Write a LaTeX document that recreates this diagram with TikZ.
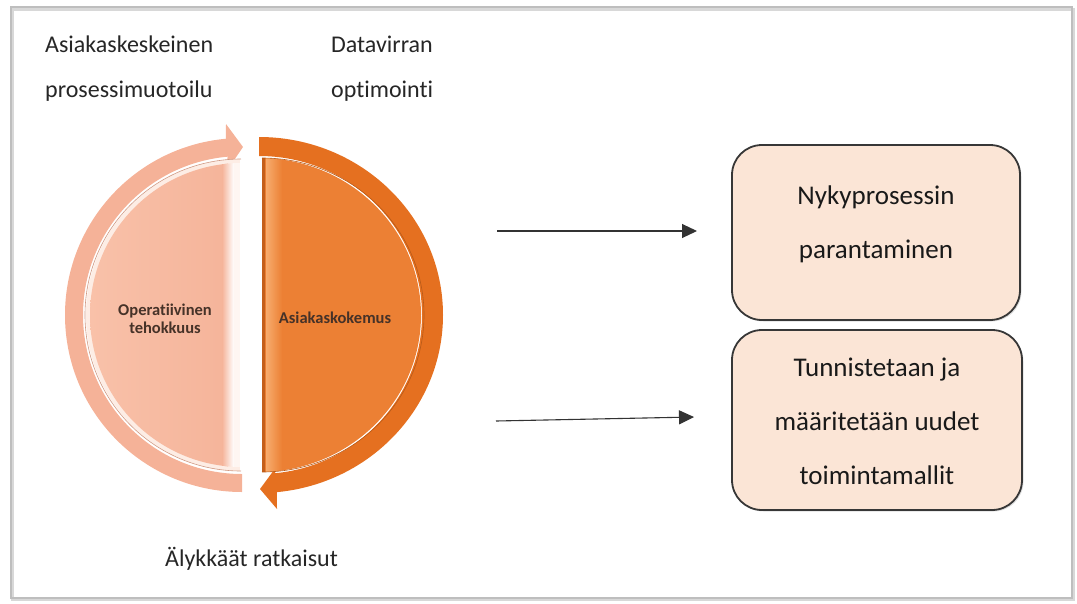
\documentclass[tikz,border=0pt]{standalone}
\usepackage{fontspec}
\setmainfont{Carlito}[Ligatures={NoCommon}]
\usetikzlibrary{arrows.meta,calc,shadows}
\definecolor{lband}{RGB}{245,178,152}
\definecolor{linner}{RGB}{249,194,170}
\definecolor{linnerdark}{RGB}{245,180,154}
\definecolor{rband}{RGB}{229,112,32}
\definecolor{rinner}{RGB}{236,128,52}
\definecolor{rinnerlight}{RGB}{247,172,110}
\definecolor{circtext}{RGB}{70,50,40}
\definecolor{boxfill}{RGB}{251,229,214}
\definecolor{boxline}{RGB}{55,55,55}
\definecolor{framecol}{RGB}{190,190,190}
\tikzset{
  toplabel/.style={anchor=base west, inner sep=0pt, font=\fontsize{24}{28}\selectfont, text=black!85},
  circlabel/.style={align=center, inner sep=0pt, font=\bfseries\fontsize{16.5}{18}\selectfont, text=circtext},
  procbox/.style={draw=boxline, line width=1.8pt, fill=boxfill, rounded corners=30pt,
     drop shadow={opacity=0.25, shadow xshift=1.5pt, shadow yshift=-1.5pt}},
  boxtext/.style={align=center, inner sep=0pt, font=\fontsize{27}{54}\selectfont, text=black!90},
  flowarrow/.style={draw=black!80, line width=1.1pt, -{Triangle[length=15pt,width=14pt]}}
}
\begin{document}
\begin{tikzpicture}[x=1pt,y=-1pt]
\useasboundingbox (0,0) rectangle (1077,603);
% page frame
\draw[framecol!60, line width=3pt] (12,9) rectangle (1073,599);
\draw[framecol, line width=1.2pt] (11,7) rectangle (1072,598);

% top and bottom labels
\node[toplabel] (l1a) at (45,52) {Asiakaskeskeinen};
\node[toplabel] (l1b) at (45,97) {prosessimuotoilu};
\node[toplabel] (l2a) at (331,52) {Datavirran};
\node[toplabel] (l2b) at (331,97) {optimointi};
\node[toplabel] (l3) at (165,566) {Älykkäät ratkaisut};

% left half: band with arrow at top
\coordinate (CL) at (242,315);
\fill[lband] (242,492) arc[start angle=90, end angle=264.8, radius=177]
   -- (226,124) -- (243,147) -- (226,172)
   -- ($(CL)+(264.8:159)$) arc[start angle=264.8, end angle=90, radius=159] -- cycle;
\begin{scope}
  \clip (CL) circle[radius=156];
  \clip (80,100) rectangle (240,530);
  \fill[white!70!linner] (80,150) rectangle (240,480);
\end{scope}
\begin{scope}
  \clip (CL) circle[radius=152];
  \clip (80,100) rectangle (240,530);
  \shade[left color=linner, right color=linnerdark] (80,150) rectangle (228,480);
  \shade[left color=linnerdark, right color=white] (222,150) rectangle (234,480);
  \fill[white!85!linner] (234,150) rectangle (240,480);
\end{scope}
\draw[linnerdark!85!black, line width=0.6pt] (241,159) arc[start angle=270, end angle=90, radius=156];

% right half: band with arrow at bottom
\coordinate (CR) at (259,315);
\fill[rband] (259,137) arc[start angle=270, end angle=444.4, x radius=184, y radius=178]
   -- (277,509) -- (260,489) -- (277,466)
   -- ($(CR)+(444.4:163 and 159)$) arc[start angle=444.4, end angle=270, x radius=163, y radius=159] -- cycle;
\begin{scope}
  \clip (CR) ellipse[x radius=162, y radius=157];
  \clip (262,100) rectangle (440,530);
  \fill[rinner] (262,150) rectangle (440,480);
  \shade[left color=rinnerlight, right color=rinner] (266,150) rectangle (282,480);
  \fill[rband!85!black] (262,150) rectangle (265,480);
\end{scope}
\draw[rband!80!black, line width=0.6pt] (262,158) arc[start angle=270, end angle=450, x radius=162, y radius=157];

\node[circlabel] (op) at (165,319) {Operatiivinen\\tehokkuus};
\node[circlabel] (ak) at (335,318) {Asiakaskokemus};

% boxes
\node[procbox, minimum width=288pt, minimum height=175pt] (box1) at (876,232.5) {};
\node[boxtext] (box1t) at (876,224) {Nykyprosessin\\parantaminen};
\node[procbox, minimum width=290pt, minimum height=180pt] (box2) at (877,420) {};
\node[boxtext] (box2t) at (877,421) {Tunnistetaan ja\\määritetään uudet\\toimintamallit};

% arrows
\coordinate (a1s) at (497,231);
\coordinate (a1e) at (697,231);
\coordinate (a2s) at (496,421);
\coordinate (a2e) at (694,417);
\draw[flowarrow] (a1s) -- (a1e);
\draw[flowarrow] (a2s) -- (a2e);
\end{tikzpicture}
\end{document}
